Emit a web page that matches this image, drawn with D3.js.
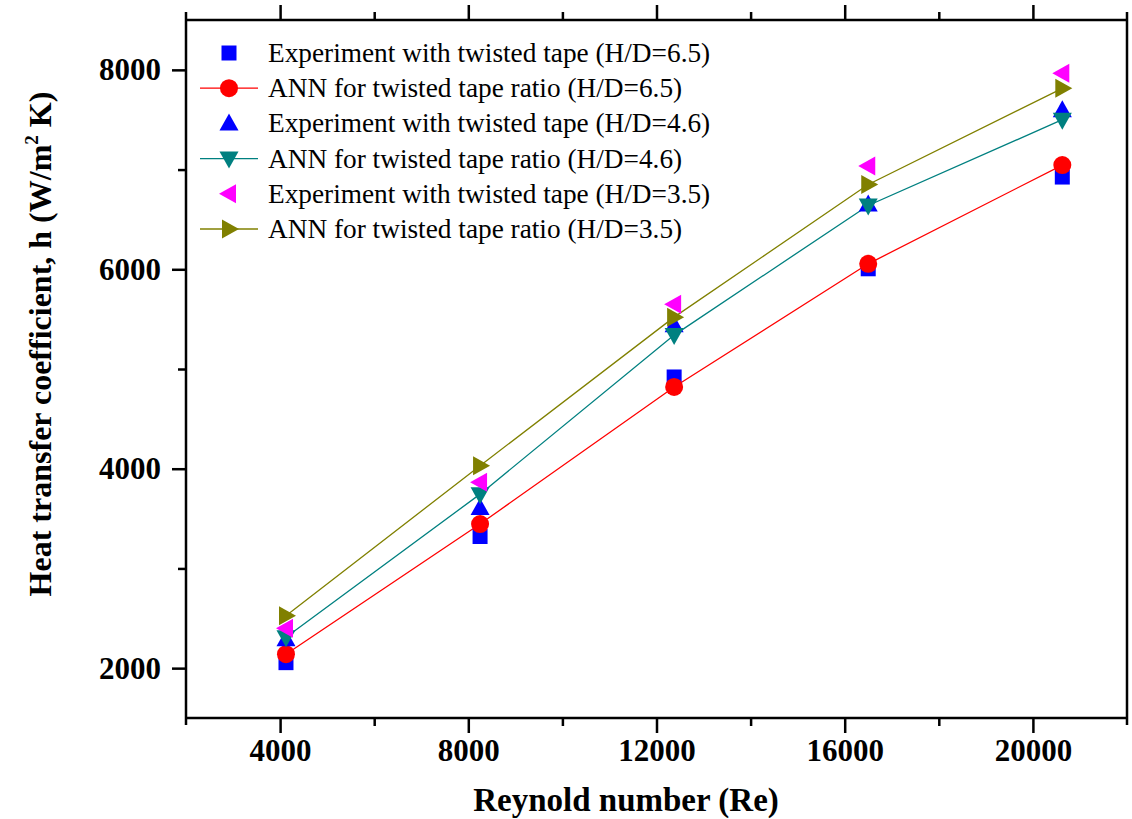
<!DOCTYPE html>
<html>
<head>
<meta charset="utf-8">
<script src="https://cdn.jsdelivr.net/npm/d3@7"></script>
<style>
  html, body { margin: 0; padding: 0; background: #fff; }
  svg { display: block; font-family: "Liberation Serif", "Times New Roman", serif; }
</style>
</head>
<body>
<svg id="chart" width="1132" height="819"></svg>
<script>
// Reynolds numbers tested
const reynolds = [4125, 8250, 12375, 16500, 20625];

// Heat transfer coefficient h (W/m^2 K)
const expHD65 = [2055, 3320, 4920, 6005, 6925];
const annHD65 = [2140, 3445, 4820, 6055, 7045];
const expHD46 = [2290, 3605, 5440, 6650, 7595];
const annHD46 = [2310, 3745, 5340, 6640, 7500];
const expHD35 = [2400, 3865, 5650, 7035, 7965];
const annHD35 = [2525, 4030, 5520, 6850, 7815];

const xTicks = [4000, 8000, 12000, 16000, 20000];
const xMinorTicks = [6000, 10000, 14000, 18000];
const yTicks = [2000, 4000, 6000, 8000];
const yMinorTicks = [3000, 5000, 7000];

const series = [
  { name: "Experiment with twisted tape (H/D=6.5)", values: expHD65, color: "#0000FF", symbol: "square", line: false },
  { name: "ANN for twisted tape ratio (H/D=6.5)", values: annHD65, color: "#FF0000", symbol: "circle", line: true },
  { name: "Experiment with twisted tape (H/D=4.6)", values: expHD46, color: "#0000FF", symbol: "up", line: false },
  { name: "ANN for twisted tape ratio (H/D=4.6)", values: annHD46, color: "#008080", symbol: "down", line: true },
  { name: "Experiment with twisted tape (H/D=3.5)", values: expHD35, color: "#FF00FF", symbol: "left", line: false },
  { name: "ANN for twisted tape ratio (H/D=3.5)", values: annHD35, color: "#808000", symbol: "right", line: true }
];

const svg = d3.select("#chart");
const frame = { left: 186, right: 1127, top: 20, bottom: 718 };
const serif = "'Liberation Serif', 'Times New Roman', serif";

const x = d3.scaleLinear().domain([2000, 22000]).range([frame.left, frame.right]);
const y = d3.scaleLinear().domain([1500, 8500]).range([frame.bottom, frame.top]);

// Marker path generators, centred on (0,0)
function markerPath(kind) {
  const p = d3.path();
  if (kind === "square") {
    const s = 7.5; p.rect(-s, -s, 2 * s, 2 * s);
  } else if (kind === "circle") {
    p.arc(0, 0, 9, 0, 2 * Math.PI);
  } else if (kind === "up") {
    p.moveTo(0, -10); p.lineTo(9.5, 7); p.lineTo(-9.5, 7); p.closePath();
  } else if (kind === "down") {
    p.moveTo(0, 10); p.lineTo(9.5, -7); p.lineTo(-9.5, -7); p.closePath();
  } else if (kind === "left") {
    p.moveTo(-10, 0); p.lineTo(7, -9.5); p.lineTo(7, 9.5); p.closePath();
  } else if (kind === "right") {
    p.moveTo(10, 0); p.lineTo(-7, -9.5); p.lineTo(-7, 9.5); p.closePath();
  }
  return p.toString();
}

// Connecting lines for the ANN predictions
const line = d3.line().x(d => x(d[0])).y(d => y(d[1]));
series.filter(s => s.line).forEach(s => {
  svg.append("path")
    .attr("d", line(reynolds.map((r, i) => [r, s.values[i]])))
    .attr("fill", "none")
    .attr("stroke", s.color)
    .attr("stroke-width", 1.3);
});

// Symbols
series.forEach(s => {
  svg.append("g").selectAll("path")
    .data(reynolds.map((r, i) => [r, s.values[i]]))
    .join("path")
    .attr("transform", d => `translate(${x(d[0])},${y(d[1])})`)
    .attr("d", markerPath(s.symbol))
    .attr("fill", s.color);
});

// Axes: bottom and left with labels, top mirrors bottom ticks
const axisStroke = 2.5;
const axisBottomG = svg.append("g").attr("transform", `translate(0,${frame.bottom})`)
  .call(d3.axisBottom(x).tickValues(xTicks).tickFormat(d3.format("d")).tickSize(15).tickPadding(6));
axisBottomG.append("g").call(d3.axisBottom(x).tickValues(xMinorTicks).tickFormat("").tickSize(8));

const axisTopG = svg.append("g").attr("transform", `translate(0,${frame.top})`)
  .call(d3.axisTop(x).tickValues(xTicks).tickFormat("").tickSize(15));
axisTopG.append("g").call(d3.axisTop(x).tickValues(xMinorTicks).tickFormat("").tickSize(8));

const axisLeftG = svg.append("g").attr("transform", `translate(${frame.left},0)`)
  .call(d3.axisLeft(y).tickValues(yTicks).tickFormat(d3.format("d")).tickSize(14).tickPadding(11));
axisLeftG.append("g").call(d3.axisLeft(y).tickValues(yMinorTicks).tickFormat("").tickSize(8));

svg.selectAll(".domain").remove();
svg.selectAll(".tick line").attr("stroke", "#000").attr("stroke-width", axisStroke);

axisBottomG.selectAll(".tick text")
  .attr("font-family", serif)
  .attr("font-weight", "bold").attr("font-size", 31).attr("fill", "#000");
axisLeftG.selectAll(".tick text")
  .attr("font-family", serif)
  .attr("font-weight", "bold").attr("font-size", 31).attr("fill", "#000");

// Frame
const fr = svg.append("g").attr("stroke", "#000").attr("stroke-width", axisStroke);
fr.append("line").attr("x1", frame.left).attr("x2", frame.right).attr("y1", frame.top).attr("y2", frame.top);
fr.append("line").attr("x1", frame.left).attr("x2", frame.right).attr("y1", frame.bottom).attr("y2", frame.bottom);
fr.append("line").attr("x1", frame.left).attr("x2", frame.left).attr("y1", frame.top - 8).attr("y2", frame.bottom + 7);
fr.append("line").attr("x1", frame.right).attr("x2", frame.right).attr("y1", frame.top - 8).attr("y2", frame.bottom + 7);

// Axis titles
svg.append("text")
  .attr("x", 626).attr("y", 811)
  .attr("text-anchor", "middle").attr("font-family", serif)
  .attr("font-weight", "bold").attr("font-size", 33)
  .text("Reynold number (Re)");

const yTitle = svg.append("text")
  .attr("transform", `translate(51,${344}) rotate(-90)`)
  .attr("text-anchor", "middle").attr("font-family", serif)
  .attr("font-weight", "bold").attr("font-size", 32);
yTitle.append("tspan").text("Heat transfer coefficient, h (W/m");
yTitle.append("tspan").attr("dy", -13).attr("font-size", 19).text("2");
yTitle.append("tspan").attr("dy", 13).text(" K)");

// Legend
const legend = svg.append("g");
const legendY0 = 53, legendStep = 35.2;
series.forEach((s, i) => {
  const g = legend.append("g").attr("transform", `translate(0,${legendY0 + i * legendStep})`);
  if (s.line) {
    g.append("line").attr("x1", 200).attr("x2", 258).attr("y1", 0).attr("y2", 0)
      .attr("stroke", s.color).attr("stroke-width", 1.3);
  }
  g.append("path").attr("transform", "translate(229,0)").attr("d", markerPath(s.symbol)).attr("fill", s.color);
  g.append("text").attr("x", 268).attr("y", 9).attr("font-family", serif)
    .attr("font-size", 27.3).attr("fill", "#000").text(s.name);
});
</script>
</body>
</html>
